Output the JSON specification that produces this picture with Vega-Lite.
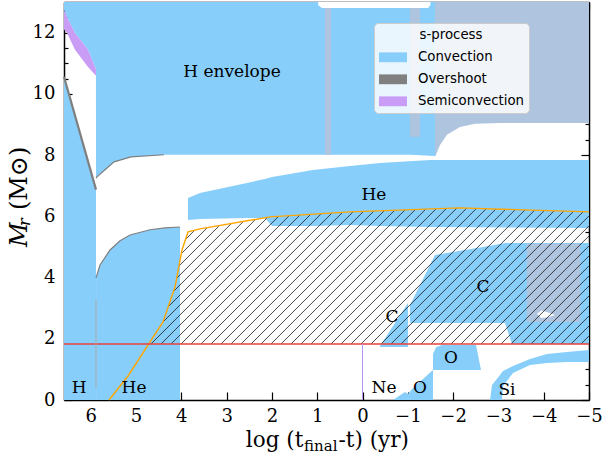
{
"$schema": "https://vega.github.io/schema/vega-lite/v6.json",
"width": 525, "height": 398,
"autosize": {"type": "none"},
"padding": {"left": 64, "top": 2, "right": 15, "bottom": 59},
"background": "white",
"datasets": {
"regions": [
{"r":"Hcore","t":"Convection","x":6.59,"lo":0,"hi":10.56},
{"r":"Hcore","t":"Convection","x":5.883,"lo":0,"hi":6.87},
{"r":"Hecore","t":"Convection","x":5.882,"lo":0,"hi":3.99},
{"r":"Hecore","t":"Convection","x":5.795,"lo":0,"hi":4.41},
{"r":"Hecore","t":"Convection","x":5.574,"lo":0,"hi":4.9},
{"r":"Hecore","t":"Convection","x":5.353,"lo":0,"hi":5.2},
{"r":"Hecore","t":"Convection","x":5.132,"lo":0,"hi":5.39},
{"r":"Hecore","t":"Convection","x":4.691,"lo":0,"hi":5.56},
{"r":"Hecore","t":"Convection","x":4.36,"lo":0,"hi":5.62},
{"r":"Hecore","t":"Convection","x":4.029,"lo":0,"hi":5.65},
{"r":"Henv","t":"Convection","x":6.59,"lo":12.75,"hi":13},
{"r":"Henv","t":"Convection","x":6.523,"lo":12.5,"hi":13},
{"r":"Henv","t":"Convection","x":6.347,"lo":11.99,"hi":13},
{"r":"Henv","t":"Convection","x":6.06,"lo":11.44,"hi":13},
{"r":"Henv","t":"Convection","x":5.905,"lo":10.88,"hi":13},
{"r":"Henv","t":"Convection","x":5.885,"lo":10.8,"hi":13},
{"r":"Henv","t":"Convection","x":5.883,"lo":7.25,"hi":13},
{"r":"Henv","t":"Convection","x":5.861,"lo":7.29,"hi":13},
{"r":"Henv","t":"Convection","x":5.684,"lo":7.52,"hi":13},
{"r":"Henv","t":"Convection","x":5.485,"lo":7.78,"hi":13},
{"r":"Henv","t":"Convection","x":5.11,"lo":7.94,"hi":13},
{"r":"Henv","t":"Convection","x":4.382,"lo":8.01,"hi":13},
{"r":"Henv","t":"Convection","x":-1.049,"lo":8.01,"hi":13},
{"r":"Henv","t":"Convection","x":-1.6,"lo":7.97,"hi":13},
{"r":"Semi","t":"Semiconvection","x":6.59,"lo":12.1,"hi":12.75},
{"r":"Semi","t":"Semiconvection","x":6.523,"lo":11.99,"hi":12.5},
{"r":"Semi","t":"Semiconvection","x":6.347,"lo":11.44,"hi":11.99},
{"r":"Semi","t":"Semiconvection","x":6.06,"lo":10.88,"hi":11.44},
{"r":"Semi","t":"Semiconvection","x":5.905,"lo":10.62,"hi":10.88},
{"r":"Semi","t":"Semiconvection","x":5.885,"lo":10.6,"hi":10.8},
{"r":"HeShell","t":"Convection","x":3.852,"lo":5.882,"hi":6.601},
{"r":"HeShell","t":"Convection","x":3.587,"lo":5.915,"hi":6.765},
{"r":"HeShell","t":"Convection","x":2.55,"lo":5.948,"hi":7.092},
{"r":"HeShell","t":"Convection","x":2.152,"lo":5.948,"hi":7.222},
{"r":"HeShell","t":"Convection","x":1.998,"lo":5.686,"hi":7.288},
{"r":"HeShell","t":"Convection","x":1.093,"lo":5.686,"hi":7.516},
{"r":"HeShell","t":"Convection","x":0.276,"lo":5.719,"hi":7.647},
{"r":"HeShell","t":"Convection","x":-0.386,"lo":5.686,"hi":7.745},
{"r":"HeShell","t":"Convection","x":-1.49,"lo":5.654,"hi":7.843},
{"r":"HeShell","t":"Convection","x":-5.0,"lo":5.621,"hi":7.843},
{"r":"BigC","t":"Convection","x":-1.049,"lo":2.516,"hi":3.105},
{"r":"BigC","t":"Convection","x":-1.6,"lo":2.516,"hi":4.739},
{"r":"BigC","t":"Convection","x":-2.66,"lo":2.516,"hi":5.0},
{"r":"BigC","t":"Convection","x":-3.146,"lo":2.516,"hi":5.131},
{"r":"BigC","t":"Convection","x":-3.3,"lo":1.83,"hi":5.131},
{"r":"BigC","t":"Convection","x":-5.0,"lo":1.83,"hi":5.131},
{"r":"SmallC","t":"Convection","x":-0.386,"lo":1.73,"hi":1.76},
{"r":"SmallC","t":"Convection","x":-1.004,"lo":1.73,"hi":3.17},
{"r":"Oup","t":"Convection","x":-1.556,"lo":0.98,"hi":1.5},
{"r":"Oup","t":"Convection","x":-1.623,"lo":0.98,"hi":1.72},
{"r":"Oup","t":"Convection","x":-1.755,"lo":0.98,"hi":1.8},
{"r":"Oup","t":"Convection","x":-2.506,"lo":0.98,"hi":1.8},
{"r":"Oup","t":"Convection","x":-2.616,"lo":0.98,"hi":0.98},
{"r":"Olow","t":"Convection","x":-0.673,"lo":0,"hi":0},
{"r":"Olow","t":"Convection","x":-0.938,"lo":0,"hi":0.26},
{"r":"Olow","t":"Convection","x":-1.004,"lo":0,"hi":0.2},
{"r":"Olow","t":"Convection","x":-1.115,"lo":0,"hi":0.39},
{"r":"Olow","t":"Convection","x":-1.556,"lo":0,"hi":0.98},
{"r":"Si","t":"Convection","x":-2.815,"lo":0,"hi":0},
{"r":"Si","t":"Convection","x":-2.859,"lo":0,"hi":0.49},
{"r":"Si","t":"Convection","x":-3.035,"lo":0,"hi":0.817},
{"r":"Si","t":"Convection","x":-3.08,"lo":0,"hi":0.915},
{"r":"Si","t":"Convection","x":-3.102,"lo":0.458,"hi":0.948},
{"r":"Si","t":"Convection","x":-3.322,"lo":0.882,"hi":1.111},
{"r":"Si","t":"Convection","x":-3.698,"lo":1.144,"hi":1.34},
{"r":"Si","t":"Convection","x":-4.073,"lo":1.209,"hi":1.503},
{"r":"Si","t":"Convection","x":-4.514,"lo":1.242,"hi":1.569},
{"r":"Si","t":"Convection","x":-5.0,"lo":1.242,"hi":1.634},
{"r":"SteelTop","t":"Mixed","x":-1.6,"lo":7.94,"hi":13},
{"r":"SteelTop","t":"Mixed","x":-1.711,"lo":8.33,"hi":13},
{"r":"SteelTop","t":"Mixed","x":-1.865,"lo":8.66,"hi":13},
{"r":"SteelTop","t":"Mixed","x":-2.152,"lo":8.92,"hi":13},
{"r":"SteelTop","t":"Mixed","x":-2.483,"lo":9.02,"hi":13},
{"r":"SteelTop","t":"Mixed","x":-3.035,"lo":9.05,"hi":13},
{"r":"SteelTop","t":"Mixed","x":-5.0,"lo":9.05,"hi":13},
{"r":"Strip1","t":"Mixed","x":0.828,"lo":8.01,"hi":13},
{"r":"Strip1","t":"Mixed","x":0.695,"lo":8.01,"hi":13},
{"r":"Strip2","t":"Mixed","x":-1.049,"lo":8.6,"hi":13},
{"r":"Strip2","t":"Mixed","x":-1.27,"lo":8.6,"hi":13},
{"r":"SteelC","t":"Mixed","x":-3.63,"lo":2.55,"hi":5.1},
{"r":"SteelC","t":"Mixed","x":-4.81,"lo":2.55,"hi":5.1},
{"r":"Blob","t":"Gap","x":-3.852,"lo":2.82,"hi":2.82},
{"r":"Blob","t":"Gap","x":-3.95,"lo":2.68,"hi":2.92},
{"r":"Blob","t":"Gap","x":-4.1,"lo":2.7,"hi":2.86},
{"r":"Blob","t":"Gap","x":-4.249,"lo":2.78,"hi":2.78},
{"r":"TopGap","t":"Gap","x":0.98,"lo":12.9,"hi":13},
{"r":"TopGap","t":"Gap","x":0.9,"lo":12.8,"hi":13},
{"r":"TopGap","t":"Gap","x":-1.45,"lo":12.8,"hi":13},
{"r":"TopGap","t":"Gap","x":-1.5,"lo":12.9,"hi":13}
],
"edges": [
{"g":"E1","i":0,"x":6.59,"y":10.56},
{"g":"E1","i":1,"x":5.883,"y":6.87},
{"g":"E2","i":0,"x":5.883,"y":3.99},
{"g":"E2","i":1,"x":5.795,"y":4.41},
{"g":"E2","i":2,"x":5.574,"y":4.9},
{"g":"E2","i":3,"x":5.353,"y":5.2},
{"g":"E2","i":4,"x":5.132,"y":5.39},
{"g":"E2","i":5,"x":4.691,"y":5.56},
{"g":"E2","i":6,"x":4.36,"y":5.62},
{"g":"E2","i":7,"x":4.029,"y":5.65},
{"g":"E3","i":0,"x":5.883,"y":7.25},
{"g":"E3","i":1,"x":5.861,"y":7.29},
{"g":"E3","i":2,"x":5.684,"y":7.52},
{"g":"E3","i":3,"x":5.485,"y":7.78},
{"g":"E3","i":4,"x":5.11,"y":7.94},
{"g":"E3","i":5,"x":4.382,"y":8.01}
],
"hatch": [
{"x":3.907,"y":5.245,"x2":3.704,"y2":5.546},
{"x":4.0,"y":4.781,"x2":3.428,"y2":5.627},
{"x":4.051,"y":4.379,"x2":3.161,"y2":5.696},
{"x":4.104,"y":3.974,"x2":2.894,"y2":5.765},
{"x":4.174,"y":3.542,"x2":2.629,"y2":5.833},
{"x":4.289,"y":3.046,"x2":2.362,"y2":5.899},
{"x":4.404,"y":2.549,"x2":2.095,"y2":5.967},
{"x":4.669,"y":1.83,"x2":1.854,"y2":5.997},
{"x":4.448,"y":1.83,"x2":1.618,"y2":6.02},
{"x":4.227,"y":1.83,"x2":1.382,"y2":6.042},
{"x":4.007,"y":1.83,"x2":1.146,"y2":6.062},
{"x":3.786,"y":1.83,"x2":0.912,"y2":6.085},
{"x":3.565,"y":1.83,"x2":0.675,"y2":6.108},
{"x":3.344,"y":1.83,"x2":0.442,"y2":6.127},
{"x":3.124,"y":1.83,"x2":0.208,"y2":6.147},
{"x":2.903,"y":1.83,"x2":-0.022,"y2":6.16},
{"x":2.682,"y":1.83,"x2":-0.252,"y2":6.173},
{"x":2.461,"y":1.83,"x2":-0.481,"y2":6.183},
{"x":2.241,"y":1.83,"x2":-0.709,"y2":6.196},
{"x":2.02,"y":1.83,"x2":-0.938,"y2":6.209},
{"x":1.799,"y":1.83,"x2":-1.168,"y2":6.222},
{"x":1.578,"y":1.83,"x2":-1.397,"y2":6.235},
{"x":1.358,"y":1.83,"x2":-1.625,"y2":6.245},
{"x":1.137,"y":1.83,"x2":-1.854,"y2":6.258},
{"x":0.916,"y":1.83,"x2":-2.084,"y2":6.271},
{"x":0.695,"y":1.83,"x2":-2.302,"y2":6.268},
{"x":0.475,"y":1.83,"x2":-2.517,"y2":6.258},
{"x":0.254,"y":1.83,"x2":-2.731,"y2":6.248},
{"x":0.033,"y":1.83,"x2":-2.945,"y2":6.239},
{"x":-0.188,"y":1.83,"x2":-3.159,"y2":6.229},
{"x":-0.408,"y":1.83,"x2":-3.373,"y2":6.219},
{"x":-0.629,"y":1.83,"x2":-3.587,"y2":6.209},
{"x":-0.85,"y":1.83,"x2":-3.801,"y2":6.199},
{"x":-1.071,"y":1.83,"x2":-4.015,"y2":6.19},
{"x":-1.291,"y":1.83,"x2":-4.23,"y2":6.18},
{"x":-1.512,"y":1.83,"x2":-4.444,"y2":6.17},
{"x":-1.733,"y":1.83,"x2":-4.658,"y2":6.16},
{"x":-1.954,"y":1.83,"x2":-4.872,"y2":6.15},
{"x":-2.174,"y":1.83,"x2":-5.0,"y2":6.013},
{"x":-2.395,"y":1.83,"x2":-5.0,"y2":5.686},
{"x":-2.616,"y":1.83,"x2":-5.0,"y2":5.359},
{"x":-2.837,"y":1.83,"x2":-5.0,"y2":5.033},
{"x":-3.057,"y":1.83,"x2":-5.0,"y2":4.706},
{"x":-3.278,"y":1.83,"x2":-5.0,"y2":4.379},
{"x":-3.499,"y":1.83,"x2":-5.0,"y2":4.052},
{"x":-3.72,"y":1.83,"x2":-5.0,"y2":3.725},
{"x":-3.94,"y":1.83,"x2":-5.0,"y2":3.399},
{"x":-4.161,"y":1.83,"x2":-5.0,"y2":3.072},
{"x":-4.382,"y":1.83,"x2":-5.0,"y2":2.745},
{"x":-4.603,"y":1.83,"x2":-5.0,"y2":2.418},
{"x":-4.823,"y":1.83,"x2":-5.0,"y2":2.092}
],
"orange": [
{"i":0,"x":5.596,"y":0},
{"i":1,"x":5.177,"y":0.784},
{"i":2,"x":4.404,"y":2.549},
{"i":3,"x":4.139,"y":3.693},
{"i":4,"x":3.985,"y":4.902},
{"i":5,"x":3.852,"y":5.49},
{"i":6,"x":3.587,"y":5.588},
{"i":7,"x":2.042,"y":5.98},
{"i":8,"x":0.276,"y":6.144},
{"i":9,"x":-2.152,"y":6.275},
{"i":10,"x":-5.0,"y":6.144}
],
"vlines": [
{"k":"gray","x":5.883,"y":0.39,"y2":3.27},
{"k":"purple","x":0,"y":0,"y2":1.83}
],
"labels": [
{"x":2.881,"y":10.72,"s":"H envelope"},
{"x":6.258,"y":0.39,"s":"H"},
{"x":5.044,"y":0.39,"s":"He"},
{"x":-0.475,"y":0.39,"s":"Ne"},
{"x":-1.269,"y":0.39,"s":"O"},
{"x":-3.19,"y":0.33,"s":"Si"},
{"x":-1.954,"y":1.37,"s":"O"},
{"x":-0.65,"y":2.7,"s":"C"},
{"x":-2.66,"y":3.69,"s":"C"},
{"x":-0.25,"y":6.7,"s":"He"}
]
},
"layer": [
{
"data": {"name": "regions"},
"transform": [{"filter": {"field": "t", "oneOf": ["Convection", "Semiconvection"]}}],
"mark": {"type": "area", "opacity": 1, "fillOpacity": 1},
"encoding": {
"x": {"field": "x", "type": "quantitative", "scale": {"domain": [-5, 6.59], "reverse": true, "nice": false, "zero": false},
"axis": {"orient": "bottom", "title": null, "values": [-5,-4,-3,-2,-1,0,1,2,3,4,5,6], "tickSize": -8, "labelPadding": 15, "domain": true, "labelFlush": false, "labelOverlap": false}},
"y": {"field": "hi", "type": "quantitative", "stack": null, "scale": {"domain": [0, 13], "nice": false, "zero": false},
"axis": {"orient": "left", "title": null, "values": [0,2,4,6,8,10,12], "tickSize": -8, "labelPadding": 17, "domain": true, "labelFlush": false, "labelOverlap": false}},
"y2": {"field": "lo"},
"color": {"field": "t", "type": "nominal",
"scale": {"domain": ["Convection","Overshoot","Semiconvection","Mixed","Gap"], "range": ["#87cefa","#808080","#c99cf6","#afc4de","#ffffff"]},
"legend": {"orient": "none", "legendX": 310, "legendY": 21, "title": "s-process", "values": ["Convection","Overshoot","Semiconvection"],
"symbolType": "M-1,-0.7L3,-0.7L3,0.7L-1,0.7Z", "symbolSize": 196, "symbolStrokeWidth": 0, "symbolOpacity": 1,
"labelFont": "DejaVu Sans", "labelFontSize": 13.3, "labelOffset": 25, "labelColor": "#000",
"titleFont": "DejaVu Sans", "titleFontSize": 13.3, "titleFontWeight": "normal", "titleColor": "#000", "titleAnchor": "middle", "titlePadding": 9,
"rowPadding": 8, "padding": 5, "fillColor": "rgba(255,255,255,0.82)", "strokeColor": "#cccccc", "cornerRadius": 4}},
"detail": {"field": "r", "type": "nominal"}
}
},
{
"data": {"name": "regions"},
"transform": [{"filter": {"field": "t", "oneOf": ["Mixed", "Gap"]}}],
"mark": {"type": "area", "opacity": 1, "fillOpacity": 1},
"encoding": {
"x": {"field": "x", "type": "quantitative", "scale": {"domain": [-5, 6.59], "reverse": true, "nice": false, "zero": false},
"axis": {"orient": "top", "title": null, "values": [-5,-4,-3,-2,-1,0,1,2,3,4,5,6], "tickSize": -8, "labels": false, "domain": true}},
"y": {"field": "hi", "type": "quantitative", "stack": null, "scale": {"domain": [0, 13], "nice": false, "zero": false},
"axis": {"orient": "right", "title": null, "values": [0,2,4,6,8,10,12], "tickSize": -8, "labels": false, "domain": true}},
"y2": {"field": "lo"},
"color": {"field": "t", "type": "nominal",
"scale": {"domain": ["Convection","Overshoot","Semiconvection","Mixed","Gap"], "range": ["#87cefa","#808080","#c99cf6","#afc4de","#ffffff"]},
"legend": {"orient": "none", "legendX": 310, "legendY": 21, "title": "s-process", "values": ["Convection","Overshoot","Semiconvection"],
"symbolType": "M-1,-0.7L3,-0.7L3,0.7L-1,0.7Z", "symbolSize": 196, "symbolStrokeWidth": 0, "symbolOpacity": 1,
"labelFont": "DejaVu Sans", "labelFontSize": 13.3, "labelOffset": 25, "labelColor": "#000",
"titleFont": "DejaVu Sans", "titleFontSize": 13.3, "titleFontWeight": "normal", "titleColor": "#000", "titleAnchor": "middle", "titlePadding": 9,
"rowPadding": 8, "padding": 5, "fillColor": "rgba(255,255,255,0.82)", "strokeColor": "#cccccc", "cornerRadius": 4}},
"detail": {"field": "r", "type": "nominal"}
}
},
{
"data": {"name": "edges"},
"transform": [{"filter": "datum.g !== 'E1'"}],
"mark": {"type": "line", "stroke": "#7f7f7f", "strokeWidth": 1.2},
"encoding": {
"x": {"field": "x", "type": "quantitative", "axis": null},
"y": {"field": "y", "type": "quantitative", "axis": {"orient": "left", "title": null, "values": [0.5,1,1.5,2.5,3,3.5,4.5,5,5.5,6.5,7,7.5,8.5,9,9.5,10.5,11,11.5,12.5], "tickSize": -4, "labels": false, "domain": false}},
"detail": {"field": "g", "type": "nominal"},
"order": {"field": "i", "type": "quantitative"}
}
},
{
"data": {"name": "edges"},
"transform": [{"filter": "datum.g === 'E1'"}],
"mark": {"type": "line", "stroke": "#7f7f7f", "strokeWidth": 2.2},
"encoding": {
"x": {"field": "x", "type": "quantitative", "axis": null},
"y": {"field": "y", "type": "quantitative", "axis": {"orient": "right", "title": null, "values": [0.5,1,1.5,2.5,3,3.5,4.5,5,5.5,6.5,7,7.5,8.5,9,9.5,10.5,11,11.5,12.5], "tickSize": -4, "labels": false, "domain": false}},
"order": {"field": "i", "type": "quantitative"}
}
},
{
"data": {"name": "hatch"},
"mark": {"type": "rule", "stroke": "#1a1a1a", "strokeWidth": 0.8, "clip": true},
"encoding": {
"x": {"field": "x", "type": "quantitative", "axis": null},
"y": {"field": "y", "type": "quantitative", "axis": null},
"x2": {"field": "x2"},
"y2": {"field": "y2"}
}
},
{
"data": {"name": "orange"},
"mark": {"type": "line", "stroke": "#ffa500", "strokeWidth": 1.4},
"encoding": {
"x": {"field": "x", "type": "quantitative", "axis": null},
"y": {"field": "y", "type": "quantitative", "axis": null},
"order": {"field": "i", "type": "quantitative"}
}
},
{
"data": {"values": [{"y": 1.83}]},
"mark": {"type": "rule", "stroke": "#e8413c", "strokeWidth": 1.6},
"encoding": {
"y": {"field": "y", "type": "quantitative", "axis": null}
}
},
{
"data": {"name": "vlines"},
"transform": [{"filter": "datum.k === 'gray'"}],
"mark": {"type": "rule", "stroke": "#a8a8a8", "strokeWidth": 1},
"encoding": {
"x": {"field": "x", "type": "quantitative", "axis": null},
"y": {"field": "y", "type": "quantitative", "axis": null},
"y2": {"field": "y2"}
}
},
{
"data": {"name": "vlines"},
"transform": [{"filter": "datum.k === 'purple'"}],
"mark": {"type": "rule", "stroke": "#b894f2", "strokeWidth": 1},
"encoding": {
"x": {"field": "x", "type": "quantitative", "axis": null},
"y": {"field": "y", "type": "quantitative", "axis": null},
"y2": {"field": "y2"}
}
},
{
"data": {"name": "labels"},
"mark": {"type": "text", "font": "DejaVu Serif", "fontSize": 17, "baseline": "middle", "align": "center", "color": "#000"},
"encoding": {
"x": {"field": "x", "type": "quantitative", "axis": null},
"y": {"field": "y", "type": "quantitative", "axis": null},
"text": {"field": "s"}
}
},
{
"data": {"values": [{"x": 1.307, "y": -1.536, "s": "log (t"}]},
"mark": {"type": "text", "font": "DejaVu Serif", "fontSize": 21.5, "baseline": "alphabetic", "align": "right", "color": "#000"},
"encoding": {
"x": {"field": "x", "type": "quantitative", "axis": null},
"y": {"field": "y", "type": "quantitative", "axis": null},
"text": {"field": "s"}
}
},
{
"data": {"values": [{"x": 0.53, "y": -1.536, "s": "-t) (yr)"}]},
"mark": {"type": "text", "font": "DejaVu Serif", "fontSize": 21.5, "baseline": "alphabetic", "align": "left", "color": "#000"},
"encoding": {
"x": {"field": "x", "type": "quantitative", "axis": null},
"y": {"field": "y", "type": "quantitative", "axis": null},
"text": {"field": "s"}
}
},
{
"data": {"values": [{"x": 1.291, "y": -1.68, "s": "final"}]},
"mark": {"type": "text", "font": "DejaVu Serif", "fontSize": 15, "baseline": "alphabetic", "align": "left", "color": "#000"},
"encoding": {
"x": {"field": "x", "type": "quantitative", "axis": null},
"y": {"field": "y", "type": "quantitative", "axis": null},
"text": {"field": "s"}
}
},
{
"data": {"values": [{"x": 7.56, "y": 5.0, "s": "M"}]},
"mark": {"type": "text", "font": "DejaVu Serif", "fontSize": 24, "fontStyle": "italic", "baseline": "middle", "align": "left", "angle": 270, "color": "#000"},
"encoding": {
"x": {"field": "x", "type": "quantitative", "axis": null},
"y": {"field": "y", "type": "quantitative", "axis": null},
"text": {"field": "s"}
}
},
{
"data": {"values": [{"x": 7.45, "y": 5.683, "s": "r"}]},
"mark": {"type": "text", "font": "DejaVu Serif", "fontSize": 16, "fontStyle": "italic", "baseline": "middle", "align": "left", "angle": 270, "color": "#000"},
"encoding": {
"x": {"field": "x", "type": "quantitative", "axis": null},
"y": {"field": "y", "type": "quantitative", "axis": null},
"text": {"field": "s"}
}
},
{
"data": {"values": [{"x": 7.56, "y": 6.206, "s": "(M⊙)"}]},
"mark": {"type": "text", "font": "DejaVu Serif", "fontSize": 24, "baseline": "middle", "align": "left", "angle": 270, "color": "#000"},
"encoding": {
"x": {"field": "x", "type": "quantitative", "axis": null},
"y": {"field": "y", "type": "quantitative", "axis": null},
"text": {"field": "s"}
}
}
],
"resolve": {"axis": {"x": "independent", "y": "independent"}},
"config": {
"view": {"stroke": null},
"axis": {"labelFont": "DejaVu Serif", "labelFontSize": 18, "labelColor": "#000", "tickColor": "#000", "tickWidth": 1.2, "domainColor": "#000", "domainWidth": 1.5, "grid": false, "zindex": 1}
}
}
